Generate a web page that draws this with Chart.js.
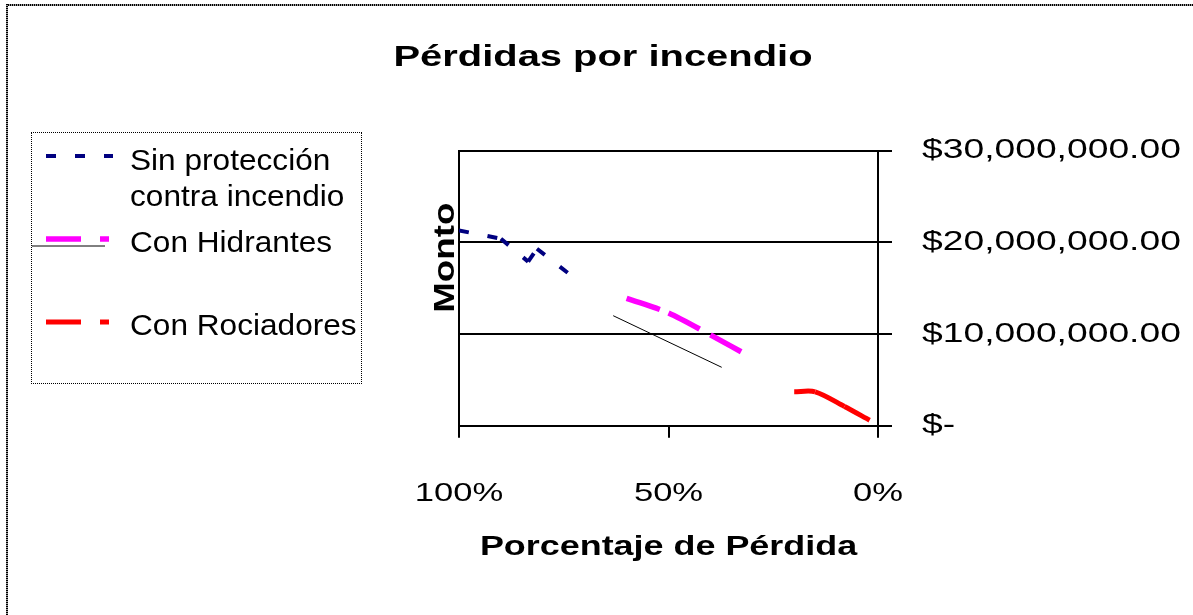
<!DOCTYPE html>
<html>
<head>
<meta charset="utf-8">
<script src="https://cdn.jsdelivr.net/npm/chart.js@4.4.1/dist/chart.umd.min.js"></script>
<style>
  body { margin: 0; background: #fff; overflow: hidden; font-family: 'Liberation Sans', Arial, sans-serif; }
  #wrap { position: relative; width: 1193px; height: 615px; }
  #grafica { position: absolute; left: 0; top: 0; }
  #frameTop { position: absolute; left: 6px; top: 4px; width: 1187px; height: 2px;
    background: repeating-linear-gradient(90deg, #000 0 1px, #999 1px 2px); }
  #frameLeft { position: absolute; left: 6px; top: 4px; width: 2px; height: 611px;
    background: repeating-linear-gradient(180deg, #000 0 1px, #999 1px 2px); }
  #legend { position: absolute; left: 31px; top: 132px; width: 329px; height: 250px; border: 1px dotted #000; }
  .row { position: absolute; left: 0; width: 100%; }
  .row svg { position: absolute; left: 14px; }
  .row span { position: absolute; left: 98px; top: 0; white-space: nowrap; font-size: 29px; line-height: 36.7px;
    color: #000; transform: scaleX(1.09); transform-origin: 0 0; }
  #stray { position: absolute; left: 0; top: 112px; }
</style>
</head>
<body>
<div id="wrap">
  <canvas id="grafica" width="1193" height="615"></canvas>
  <div id="frameTop"></div>
  <div id="frameLeft"></div>
  <div id="legend">
    <svg id="stray" width="73" height="2"><line x1="0" y1="1" x2="73" y2="1" stroke="#000" stroke-width="1"/></svg>
  </div>
</div>
<script>
  // PORCENTAJE DE PERDIDA (x) Y MONTO (y) POR SERIE
  const sinProteccionX = [100, 90, 83.5, 81.4, 71.6];
  const sinProteccionY = [21300000, 20400000, 17900000, 19300000, 15800000];
  const hidrantesX = [60, 50, 40, 30];
  const hidrantesY = [13900000, 12300000, 9900000, 7400000];
  const rociadoresX = [20, 15, 8, 2];
  const rociadoresY = [3700000, 3700000, 2100000, 600000];
  const tendenciaX = [63.2, 37.3];
  const tendenciaY = [12000000, 6370000];

  const seriesNames = ['Sin protección\ncontra incendio', 'Con Hidrantes', 'Con Rociadores'];
  const xTicks = [0, 50, 100];
  const yTicks = [0, 10000000, 20000000, 30000000];

  const FONT = "'Liberation Sans', Arial, sans-serif";
  const STRETCH = 1.33; // labels in this chart are drawn wide

  function toPoints(xs, ys) {
    return xs.map((x, i) => ({ x: x, y: ys[i] }));
  }

  // widen every canvas text along its own direction
  function stretchText(ctx, sx) {
    const fill = ctx.fillText.bind(ctx);
    const measure = ctx.measureText.bind(ctx);
    ctx.fillText = function (text, x, y, maxWidth) {
      ctx.save();
      ctx.translate(x, y);
      ctx.scale(sx, 1);
      if (maxWidth === undefined || maxWidth === null) fill(text, 0, 0);
      else fill(text, 0, 0, maxWidth / sx);
      ctx.restore();
    };
    ctx.measureText = function (text) {
      const m = measure(text);
      return {
        width: m.width * sx,
        actualBoundingBoxAscent: m.actualBoundingBoxAscent,
        actualBoundingBoxDescent: m.actualBoundingBoxDescent
      };
    };
  }

  function moneyLabel(v) {
    if (v === 0) return '$-';
    return '$' + v.toLocaleString('en-US', { minimumFractionDigits: 2, maximumFractionDigits: 2 });
  }

  // restart the dash pattern at every data point
  const perSegmentDash = { borderDashOffset: c => c.p0DataIndex * 0.001 };

  // vertical "Monto" title, sits over the left edge of the plot
  const montoLabel = {
    id: 'montoLabel',
    afterDraw(chart) {
      const c = chart.ctx;
      const a = chart.chartArea;
      c.save();
      c.translate(a.left - 13, a.top + 107);
      c.rotate(-Math.PI / 2);
      c.scale(0.92, 1);
      c.font = 'bold 30px ' + FONT;
      c.fillStyle = '#000';
      c.textAlign = 'center';
      c.textBaseline = 'middle';
      c.fillText('Monto', 0, 0);
      c.restore();
    }
  };

  let chart;
  function createChart() {
    const ctx = document.getElementById('grafica').getContext('2d');
    stretchText(ctx, STRETCH);

    chart = new Chart(ctx, {
      type: 'line',
      data: {
        datasets: [{
          label: seriesNames[0],
          data: toPoints(sinProteccionX, sinProteccionY),
          borderColor: '#000080',
          borderWidth: 4,
          borderDash: [10, 19],
          tension: 0,
          segment: perSegmentDash
        }, {
          label: seriesNames[1],
          data: toPoints(hidrantesX, hidrantesY),
          borderColor: '#FF00FF',
          borderWidth: 5.5,
          borderDash: [35, 19],
          tension: 0.3,
          segment: perSegmentDash
        }, {
          label: seriesNames[2],
          data: toPoints(rociadoresX, rociadoresY),
          borderColor: '#FF0000',
          borderWidth: 5,
          borderDash: [35, 19],
          tension: 0.3,
          segment: perSegmentDash
        }, {
          label: 'tendencia',
          data: toPoints(tendenciaX, tendenciaY),
          borderColor: '#000',
          borderWidth: 1,
          tension: 0
        }].map(ds => Object.assign(ds, { xAxisID: 'x', yAxisID: 'y', pointRadius: 0, fill: false, borderCapStyle: 'butt' }))
      },
      options: {
        responsive: false,
        animation: false,
        devicePixelRatio: 1,
        layout: { padding: { left: 13, right: 0, top: 0, bottom: 0 } },
        plugins: {
          legend: { display: false },
          tooltip: { enabled: false },
          title: {
            display: true,
            text: 'Pérdidas por incendio',
            color: '#000',
            font: { family: FONT, size: 30, weight: 'bold' },
            padding: { top: 39.5, bottom: 75.2 }
          }
        },
        scales: {
          x: {
            type: 'linear',
            position: 'bottom',
            reverse: true,
            min: 0,
            max: 100,
            afterBuildTicks: s => { s.ticks = xTicks.map(v => ({ value: v })); },
            afterFit: s => { s.height = 189.3; },
            grid: { drawOnChartArea: false, color: '#000', lineWidth: 2, tickLength: 12 },
            border: { display: true, color: '#000', width: 2 },
            ticks: {
              padding: 40.5,
              color: '#000',
              maxRotation: 0,
              font: { family: FONT, size: 26 },
              callback: v => v + '%'
            },
            title: {
              display: true,
              text: 'Porcentaje de Pérdida',
              color: '#000',
              font: { family: FONT, size: 27, weight: 'bold' },
              padding: { top: 0, bottom: 51.5 }
            }
          },
          y: {
            type: 'linear',
            position: 'right',
            min: 0,
            max: 30000000,
            afterBuildTicks: s => { s.ticks = yTicks.map(v => ({ value: v })); },
            afterFit: s => { s.width = 315; },
            grid: { color: '#000', lineWidth: 2, tickLength: 14 },
            border: { display: true, color: '#000', width: 2 },
            ticks: {
              padding: 30,
              color: '#000',
              font: { family: FONT, size: 28 },
              callback: v => moneyLabel(v)
            }
          },
          spacer: {
            type: 'linear',
            axis: 'y',
            position: 'left',
            afterFit: s => { s.width = 446; },
            grid: { display: false },
            ticks: { display: false },
            border: { display: true, color: '#000', width: 2 }
          }
        }
      },
      plugins: [montoLabel]
    });
  }

  // LEGEND BOX BUILT FROM THE FIRST THREE DATASETS
  function buildLegend() {
    const box = document.getElementById('legend');
    const rowTop = 8.6;
    const rowStep = 82.85;
    chart.data.datasets.slice(0, 3).forEach((ds, i) => {
      const row = document.createElement('div');
      row.className = 'row';
      row.style.top = (rowTop + i * rowStep) + 'px';
      const w = i === 0 ? 67 : 63;
      row.innerHTML =
        '<svg width="' + w + '" height="8" style="top:' + (14.7 - 4) + 'px">' +
        '<line x1="0" y1="4" x2="' + w + '" y2="4" stroke="' + ds.borderColor + '" stroke-width="' + ds.borderWidth +
        '" stroke-dasharray="' + ds.borderDash.join(' ') + '"/></svg>' +
        '<span>' + ds.label.split('\n').join('<br>') + '</span>';
      box.appendChild(row);
    });
  }

  window.onload = function () {
    createChart();
    buildLegend();
  };
</script>
</body>
</html>
